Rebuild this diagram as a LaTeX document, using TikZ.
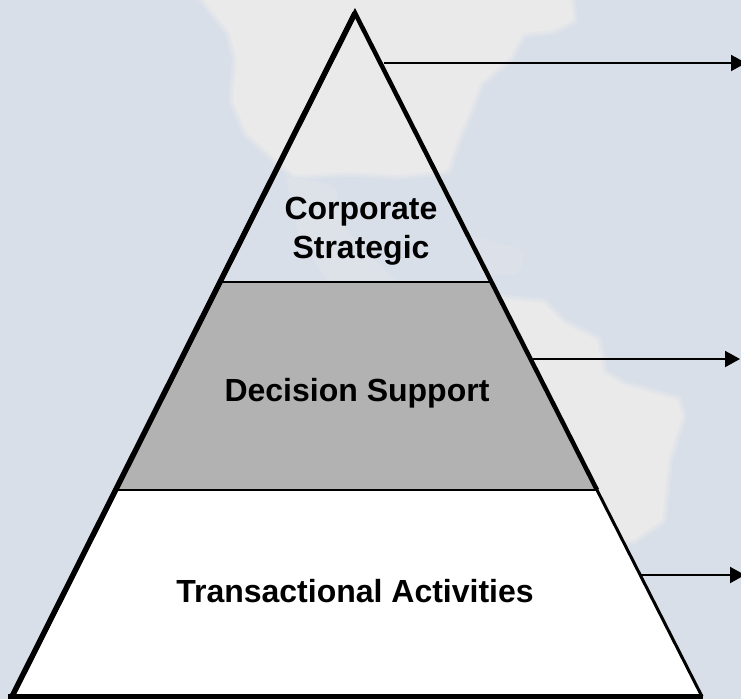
\documentclass[tikz,border=0pt]{standalone}
\usepackage{fontspec}
\setmainfont{Liberation Sans}
\usetikzlibrary{arrows.meta}
\definecolor{sea}{HTML}{D9DFE9}
\definecolor{land}{HTML}{EAEAEA}
\definecolor{band}{HTML}{B2B2B2}
\tikzset{
  x=1pt,y=-1pt,
  edgeline/.style={line width=#1,black,line cap=butt,miter limit=10},
  lbl/.style={font=\fontsize{32}{38.5}\selectfont\bfseries,align=center,text=black,inner sep=0pt},
  leader/.style={line width=2pt,-{Triangle[length=15pt,width=16pt]}},
  softedge/.style={draw=land!#1!sea,line width=#1/100*0pt+14pt-#1/100*14pt,line join=round},
}
\newcommand{\northam}{(200,-5) -- (230,33) -- (237,60) -- (233,100) -- (247,133) -- (277,160) -- (295,175) -- (350,172) -- (400,175) -- (447,170) -- (457,140) -- (470,110) -- (480,83) -- (510,57) -- (523,33) -- (553,30) -- (573,20) -- (570,-5) -- cycle}
\newcommand{\southam}{(490,298) -- (507,300) -- (543,303) -- (563,323) -- (597,340) -- (603,373) -- (623,385) -- (677,400) -- (682,417) -- (668,460) -- (662,520) -- (633,540) -- (560,540) -- cycle}
\begin{document}
\begin{tikzpicture}
\useasboundingbox (0,0) rectangle (741,699);
\fill[sea] (0,0) rectangle (741,699);
% soft-edged land masses
\draw[softedge=30,fill=land!30!sea] \northam;
\draw[softedge=65,fill=land!65!sea] \northam;
\fill[land] \northam;
\draw[softedge=30,fill=land!30!sea] \southam;
\draw[softedge=65,fill=land!65!sea] \southam;
\fill[land] \southam;
% faint central america
\fill[land!25!sea,rounded corners=8pt] (285,175) -- (335,185) -- (345,230) -- (400,285) -- (330,285) -- (300,240) -- cycle;
\fill[land!18!sea,rounded corners=8pt] (470,235) -- (525,250) -- (520,275) -- (480,275) -- cycle;
\coordinate (apex) at (355,13);
\coordinate (bl) at (12,696.5);
\coordinate (br) at (702,696.5);
\coordinate (ml) at (220.5,282);
\coordinate (mr) at (491.5,282);
\coordinate (ll) at (116,490);
\coordinate (lr) at (597,490);
\fill[band] (ml) -- (mr) -- (lr) -- (ll) -- cycle;
\fill[white] (ll) -- (lr) -- (br) -- (bl) -- cycle;
\draw[line width=2pt] (ml) -- (mr);
\draw[line width=2pt] (ll) -- (lr);
\draw[edgeline=3pt] (lr) -- (br);
\draw[edgeline=4.5pt] (bl) -- (apex) -- (lr);
\draw[edgeline=5.5pt] (bl) -- (apex);
\draw[edgeline=5pt] (8,696.5) -- (703,696.5);
\node[lbl] (cs) at (361,231) {Corporate\\Strategic};
\node[lbl] (ds) at (357,393) {Decision Support};
\node[lbl] (ta) at (355,591) {Transactional Activities};
\coordinate (a1s) at (384,63);
\coordinate (a1e) at (746,63);
\coordinate (a2s) at (533,359);
\coordinate (a2e) at (740,359);
\coordinate (a3s) at (641,575);
\coordinate (a3e) at (745,575);
\draw[leader] (a1s) -- (a1e);
\draw[leader] (a2s) -- (a2e);
\draw[leader] (a3s) -- (a3e);
\end{tikzpicture}
\end{document}
